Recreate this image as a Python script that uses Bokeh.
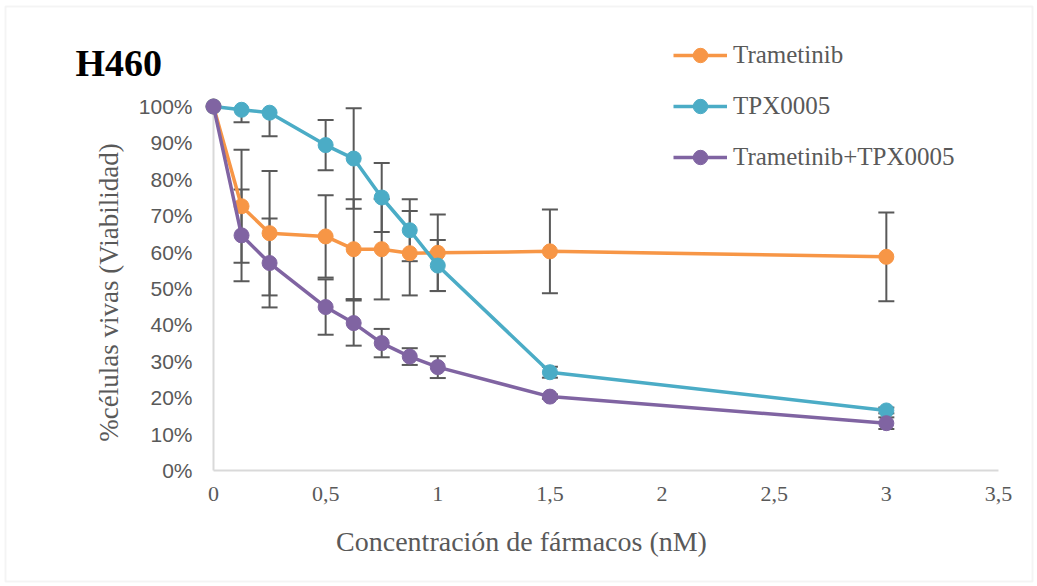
import numpy as np
from bokeh.plotting import figure
from bokeh.models import (Range1d, FixedTicker, CustomJSTickFormatter, Label,
                          Legend, LegendItem, BoxAnnotation)
from bokeh.embed import file_html
from bokeh.resources import INLINE

# ---- data ----
conc = [0, 0.125, 0.25, 0.5, 0.625, 0.75, 0.875, 1, 1.5, 3]
trametinib = [100, 72.6, 65.2, 64.3, 60.8, 60.8, 59.7, 59.8, 60.2, 58.7]
trametinib_err = [0, 15.5, 17.1, 11.3, 13.7, 13.8, 11.6, 10.5, 11.5, 12.2]
tpx0005 = [100, 99.1, 98.3, 89.4, 85.7, 75.0, 66.0, 56.3, 27.0, 16.5]
tpx0005_err = [0, 3.4, 6.5, 6.9, 13.8, 9.5, 8.5, 7.0, 1.5, 0.8]
combo = [100, 64.6, 57.0, 44.9, 40.5, 35.0, 31.3, 28.4, 20.3, 13.0]
combo_err = [0, 12.6, 12.2, 7.6, 6.2, 3.9, 2.3, 3.0, 0.6, 1.6]

series_names = ["Trametinib", "TPX0005", "Trametinib+TPX0005"]
series_colors = ["#F79646", "#4BACC6", "#8064A2"]

x_ticks = [0, 0.5, 1, 1.5, 2, 2.5, 3, 3.5]
y_ticks = [0, 10, 20, 30, 40, 50, 60, 70, 80, 90, 100]

title_text = "H460"
x_title = "Concentración de fármacos (nM)"
y_title = "%células vivas (Viabilidad)"

GRAY = "#595959"
AXIS = "#d9d9d9"
SERIF = "Liberation Serif"

W, H = 1037, 586
# frame = whole canvas; axes are drawn at fixed locations (x=0, y=0)
p = figure(width=W, height=H, output_backend="svg", toolbar_location=None,
           x_range=Range1d(-0.9497, 3.6740), y_range=Range1d(-31.868, 129.121),
           min_border=0)
p.outline_line_color = None
p.xgrid.visible = False
p.ygrid.visible = False
p.background_fill_color = "white"
p.border_fill_color = "white"

# axes
p.xaxis.ticker = FixedTicker(ticks=x_ticks)
p.yaxis.ticker = FixedTicker(ticks=y_ticks)
p.xaxis.fixed_location = 0
p.yaxis.fixed_location = 0
p.xaxis.formatter = CustomJSTickFormatter(code="return tick.toString().replace('.', ',')")
p.yaxis.formatter = CustomJSTickFormatter(code="return tick.toFixed(0) + '%'")
for ax in (p.xaxis, p.yaxis):
    ax.axis_line_color = None
    ax.major_tick_line_color = None
    ax.minor_tick_line_color = None
    ax.major_tick_out = 0
    ax.major_tick_in = 0
    ax.minor_tick_out = 0
    ax.major_label_text_color = GRAY
p.xaxis.major_label_text_font = SERIF
p.xaxis.major_label_text_font_size = "22px"
p.xaxis.major_label_standoff = 16
p.yaxis.major_label_text_font = "Liberation Sans"
p.yaxis.major_label_text_font_size = "21px"
p.yaxis.major_label_standoff = 21

# chart border
p.add_layout(BoxAnnotation(left=5, right=1032, top=580, bottom=5,
                           left_units="screen", right_units="screen",
                           top_units="screen", bottom_units="screen",
                           fill_alpha=0, line_color=AXIS, line_width=2))

# axis lines through the origin
p.segment(x0=[x_ticks[0]], y0=[y_ticks[0]], x1=[x_ticks[0]], y1=[y_ticks[-1]],
          line_color=AXIS, line_width=2)
p.segment(x0=[x_ticks[0]], y0=[y_ticks[0]], x1=[x_ticks[-1]], y1=[y_ticks[0]],
          line_color=AXIS, line_width=2)

xs = np.array(conc, dtype=float)
all_series = [(np.array(trametinib), np.array(trametinib_err)),
              (np.array(tpx0005), np.array(tpx0005_err)),
              (np.array(combo), np.array(combo_err))]

# error bars (clipped at the top of the value axis, as in the original)
top = y_ticks[-1]
for vals, err in all_series:
    m = err > 0
    lo = vals - err
    hi = vals + err
    hi_c = np.minimum(hi, top)
    p.segment(x0=xs[m], y0=lo[m], x1=xs[m], y1=hi_c[m], line_color=GRAY, line_width=2)
    p.scatter(xs[m], lo[m], marker="dash", size=16, line_color=GRAY, line_width=2)
    mu = m & (hi <= top)
    p.scatter(xs[mu], hi[mu], marker="dash", size=16, line_color=GRAY, line_width=2)

items = []
for (vals, err), name, col in zip(all_series, series_names, series_colors):
    ln = p.line(xs, vals, line_color=col, line_width=3.5)
    mk = p.scatter(xs, vals, marker="circle", size=15, fill_color=col, line_color=col)
    items.append(LegendItem(label=name, renderers=[ln, mk]))

legend = Legend(items=items, location=(673, 411), border_line_color=None,
                background_fill_alpha=0, padding=0, margin=0, glyph_width=54,
                glyph_height=36, label_standoff=6, spacing=15,
                label_text_font=SERIF, label_text_font_size="25px",
                label_text_color=GRAY)
p.add_layout(legend, "center")

p.add_layout(Label(x=75, y=H - 62, x_units="screen", y_units="screen", text=title_text,
                   text_font=SERIF, text_font_size="38px", text_font_style="bold",
                   text_color="black", text_baseline="alphabetic"))
p.add_layout(Label(x=521, y=H - 541, x_units="screen", y_units="screen", text=x_title,
                   text_font=SERIF, text_font_size="28px", text_color=GRAY,
                   text_align="center", text_baseline="middle"))
p.add_layout(Label(x=108, y=H - 292, x_units="screen", y_units="screen", text=y_title,
                   text_font=SERIF, text_font_size="27px", text_color=GRAY,
                   text_align="center", text_baseline="middle", angle=np.pi / 2))

open("out.html", "w").write(file_html(p, INLINE))
